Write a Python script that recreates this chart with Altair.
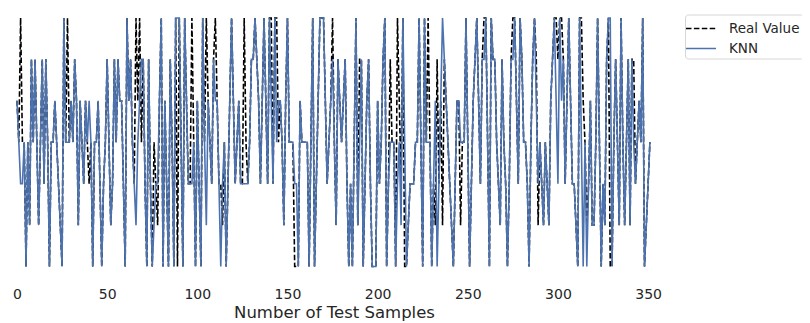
import altair as alt
import pandas as pd

knn = [4,3,2,2,3,0,3,1,5,3, 5,3,1,3,5,2,5,3,0,3,
       3,4,3,2,1,0,6,3,3,3, 4,3,5,4,1,4,3,2,4,3,
       4,3,0,3,3,4,2,0,2,3, 5,3,1,2,5,3,5,4,4,2,
       0,6,4,5,3,2,1,3,4,5, 5,2,0,5,2,0,1,2,2,4,
       6,0,4,2,0,5,3,0,6,6, 6,3,0,6,4,2,2,2,3,0,
       4,2,0,6,3,1,4,3,2,5, 4,4,2,0,2,3,0,2,4,6,
       4,2,3,4,2,2,2,2,2,3, 5,5,6,5,4,2,4,6,4,2,
       6,4,2,6,3,4,4,3,1,4, 6,3,3,3,2,2,0,4,3,3,
       3,3,0,3,6,0,2,4,6,6, 6,4,2,3,4,5,3,1,5,4,
       3,4,5,2,0,2,0,3,6,1, 3,5,0,2,4,5,2,0,0,0,
       4,2,3,5,6,0,2,3,3,3, 0,2,3,1,6,3,0,1,2,2,
       2,3,3,6,3,0,6,3,3,3, 0,2,4,0,2,4,6,5,4,3,
       2,1,0,2,4,4,3,3,3,6, 3,0,2,4,5,6,4,2,5,5,
       6,3,0,6,5,5,3,2,1,5, 3,2,0,2,5,5,6,4,2,6,
       5,3,3,2,0,3,5,6,4,2, 3,2,1,3,2,1,4,5,6,4,
       2,6,4,5,2,4,6,4,2,2, 1,0,6,3,0,3,0,2,4,1,
       1,3,6,3,0,2,1,5,6,6, 0,3,5,3,1,6,3,1,3,5,
       1,5,3,2,3,4,3,6,0,1, 2,3]

real = [4,3,6,3,3,0,3,1,5,3, 5,3,1,3,5,2,5,3,0,3,
        3,4,3,2,1,0,6,3,6,3, 4,3,5,4,1,4,3,2,4,3,
        2,3,0,3,3,4,2,0,2,3, 5,3,1,2,5,3,5,4,4,2,
        0,6,4,5,3,2,6,4,6,3, 5,2,0,5,2,0,3,2,1,4,
        6,0,4,2,0,5,3,0,6,0, 6,3,0,6,4,2,2,6,3,0,
        4,2,0,6,3,6,4,3,2,5, 6,4,2,2,1,3,0,2,4,6,
        4,2,3,4,2,2,6,3,2,3, 5,5,6,5,4,2,4,6,4,2,
        6,6,2,6,6,3,4,3,1,4, 6,3,3,3,0,0,0,4,3,3,
        3,3,0,3,6,0,2,4,6,6, 6,4,2,3,4,6,3,1,5,4,
        3,4,5,2,0,2,0,3,6,1, 5,5,0,2,4,5,2,0,0,0,
        4,2,3,5,6,0,2,5,3,3, 0,6,4,2,6,0,0,1,2,2,
        2,3,3,6,3,0,6,3,6,3, 0,2,1,5,2,4,1,5,4,3,
        2,1,0,2,4,4,1,3,3,6, 3,0,2,4,5,6,4,2,5,6,
        6,3,0,6,5,5,3,2,1,5, 3,2,0,2,5,6,6,4,2,6,
        5,3,3,2,0,3,5,6,5,1, 3,2,1,3,2,1,4,5,6,6,
        5,6,6,5,2,4,6,4,2,2, 1,0,6,6,4,3,1,2,4,1,
        1,3,6,3,0,2,1,5,6,0, 0,3,5,3,1,6,3,1,3,5,
        1,5,5,2,3,4,3,6,0,1, 2,3]

series_names = ["Real Value", "KNN"]
x_ticks = [0, 50, 100, 150, 200, 250, 300, 350]

n = len(knn)
df = pd.DataFrame({
    "sample": list(range(n)) * 2,
    "value": real + knn,
    "series": ["Real Value"] * n + ["KNN"] * n,
})

legend_kw = dict(title=None, orient="none", legendX=677, legendY=6.5,
                 symbolType="M-1.5,0H1.5", symbolSize=400, symbolOffset=2,
                 symbolStrokeWidth=1.6,
                 labelFont="DejaVu Sans", labelFontSize=13.5,
                 labelColor="#262626", padding=3, rowPadding=2,
                 strokeColor="#d6d6d6", fillColor="white",
                 cornerRadius=3, labelOffset=17)

x_enc = alt.X("sample:Q",
              scale=alt.Scale(domain=[-4.99, 368.8], nice=False, zero=False),
              axis=alt.Axis(values=x_ticks, title="Number of Test Samples",
                            grid=False, domain=False, ticks=False,
                            labelPadding=8.5, labelFontSize=14, labelColor="#262626",
                            labelFont="DejaVu Sans", titleFont="DejaVu Sans",
                            titleFontSize=16.5, titleFontWeight="normal",
                            titleColor="#262626", titlePadding=3,
                            titleX=326, titleAlign="center", labelFlush=False))
y_enc = alt.Y("value:Q",
              scale=alt.Scale(domain=[-0.3, 6.24], nice=False, zero=False),
              axis=None)
color_enc = alt.Color("series:N",
                      scale=alt.Scale(domain=series_names, range=["#000000", "#4C72B0"]),
                      legend=alt.Legend(**legend_kw))
dash_enc = alt.StrokeDash("series:N",
                          scale=alt.Scale(domain=series_names, range=[[5.5, 2.4], [1, 0]]),
                          legend=alt.Legend(**legend_kw))

base = alt.Chart(df).mark_line(strokeWidth=1.6).encode(
    x=x_enc, y=y_enc, color=color_enc, strokeDash=dash_enc, order="sample:Q")

real_layer = base.transform_filter(alt.datum.series == "Real Value")
knn_layer = base.transform_filter(alt.datum.series == "KNN")

chart = alt.layer(real_layer, knn_layer).properties(
    width=674, height=271, background="white",
    autosize=alt.AutoSizeParams(type="none"),
    padding={"left": 0, "top": 0, "right": 120, "bottom": 44},
).configure_view(stroke=None)

chart.save("out.html", embed_options={"renderer": "svg", "actions": False})
